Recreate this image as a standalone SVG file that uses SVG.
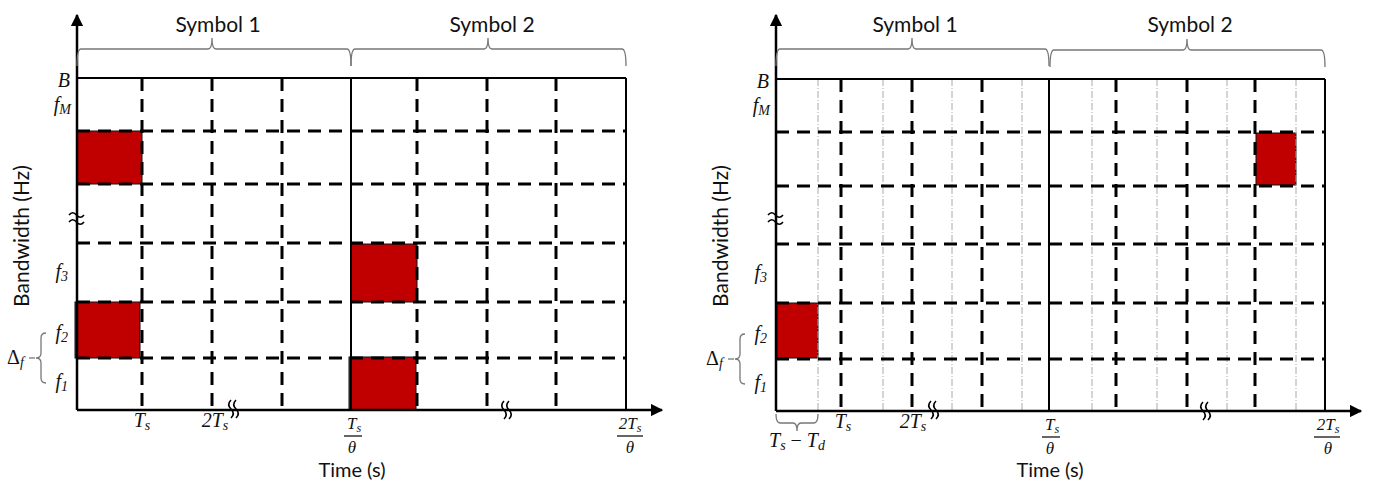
<svg xmlns="http://www.w3.org/2000/svg" width="1380" height="483" viewBox="0 0 1380 483">
<style>
.sans{font-family:Lato,"Open Sans","Liberation Sans",sans-serif;fill:#111;}
.math{font-family:"Liberation Serif","DejaVu Serif",serif;font-style:italic;fill:#111;font-size:20px;}
.up{font-style:normal;}
.frac{font-size:17px;}
.sub{font-size:14px;}
.fsub{font-size:12px;}
.axis{stroke:#000;stroke-width:2.5;fill:none;}
.frame{stroke:#000;stroke-width:2;fill:none;}
.dash{stroke:#000;stroke-width:3;stroke-dasharray:13 8;fill:none;}
.thin{stroke:#aaa;stroke-width:1;stroke-dasharray:7 2 1 2;fill:none;}
.brace{stroke:#777;stroke-width:1.3;fill:none;}
.red{fill:#C00000;stroke:#111;stroke-width:1;}
.wave{stroke:#000;stroke-width:1.6;fill:none;}
.bar{stroke:#000;stroke-width:1.2;}
</style>
<defs>
<marker id="arr" viewBox="0 0 10 10" refX="9" refY="5" markerWidth="5" markerHeight="5" orient="auto">
<path d="M0,0 L10,5 L0,10 z" fill="#000"/>
</marker>
</defs>

<!-- LEFT PANEL -->
<g id="left-cells">
<rect class="red" x="77" y="131" width="65" height="53"/>
<rect class="red" x="75" y="302" width="65" height="56"/>
<rect class="red" x="351" y="244" width="66" height="58"/>
<rect class="red" x="349" y="357" width="67" height="53"/>
</g>
<g id="left-grid">
<path class="dash" d="M77,131H626M77,184H626M77,243H626M77,302H626M77,358H626"/>
<path class="dash" d="M142,78V410M212,78V410M282,78V410M417,78V410M487,78V410M556,78V410"/>
<path class="frame" d="M77,78H626M351,78V410M626,78V410"/>
</g>
<g id="left-axes">
<path class="axis" d="M77,410V15" marker-end="url(#arr)"/>
<path class="axis" d="M77,410H662" marker-end="url(#arr)"/>
<path class="wave" d="M69,215q3.7,-4.5 7.5,0t7.5,0M69,222q3.7,-4.5 7.5,0t7.5,0"/>
<path class="wave" d="M231,400q-4.5,4.5 0,9t0,9M236,400q-4.5,4.5 0,9t0,9"/>
<path class="wave" d="M504,401q-4.5,4.5 0,9t0,9M509,401q-4.5,4.5 0,9t0,9"/>
</g>
<g id="left-braces">
<path class="brace" d="M77,66q0,-17 4,-17H208q4,0 4,-11q0,11 4,11H347q4,0 4,17"/>
<path class="brace" d="M351,66q0,-17 4,-17H484q4,0 4,-11q0,11 4,11H622q4,0 4,17"/>
<path class="brace" d="M46,333q-5,0 -5,5V353q0,5 -5,5q5,0 5,5V378q0,5 5,5"/>
<path class="brace" d="M29,358H35"/>
</g>
<g id="left-labels">
<text class="sans" x="218" y="32" font-size="21" text-anchor="middle">Symbol 1</text>
<text class="sans" x="492" y="32" font-size="21" text-anchor="middle">Symbol 2</text>
<text class="sans" x="352" y="477" font-size="20" text-anchor="middle">Time (s)</text>
<text class="sans" font-size="21" text-anchor="middle" transform="translate(29,236) rotate(-90)">Bandwidth (Hz)</text>
<text class="math" x="70" y="87" text-anchor="end">B</text>
<text class="math" x="71" y="111" text-anchor="end">f<tspan class="sub" dy="3">M</tspan></text>
<text class="math" x="68" y="278" text-anchor="end">f<tspan class="sub" dy="3">3</tspan></text>
<text class="math" x="68" y="339" text-anchor="end">f<tspan class="sub" dy="3">2</tspan></text>
<text class="math" x="68" y="388" text-anchor="end">f<tspan class="sub" dy="3">1</tspan></text>
<text class="math" x="7" y="364"><tspan class="up">Δ</tspan><tspan class="sub" dy="3">f</tspan></text>
<text class="math" x="142" y="427" text-anchor="middle">T<tspan class="sub" dy="3">s</tspan></text>
<text class="math" x="215" y="427" text-anchor="middle">2T<tspan class="sub" dy="3">s</tspan></text>
<text class="math frac" x="354" y="429" text-anchor="middle">T<tspan class="fsub" dy="3">s</tspan></text>
<path class="bar" d="M344,436H362"/>
<text class="math frac" x="352" y="453" text-anchor="middle">θ</text>
<text class="math frac" x="630" y="429" text-anchor="middle">2T<tspan class="fsub" dy="3">s</tspan></text>
<path class="bar" d="M617,436H643"/>
<text class="math frac" x="630" y="453" text-anchor="middle">θ</text>
</g>

<!-- RIGHT PANEL -->
<g id="right-cells">
<rect class="red" x="777" y="303" width="41" height="55" stroke="none"/>
<rect class="red" x="1256" y="133" width="40" height="52" stroke="none"/>
</g>
<g id="right-grid">
<path class="thin" d="M818,79V411M883,79V411M952,79V411M1022,79V411M1092,79V411M1157,79V411M1227,79V411M1296,79V411"/>
<path class="dash" d="M776,132H1325M776,186H1325M776,244H1325M776,303H1325M776,359H1325"/>
<path class="dash" d="M841,79V411M912,79V411M982,79V411M1116,79V411M1187,79V411M1255,79V411"/>
<path class="frame" d="M776,79H1325M1049,79V411M1325,79V411"/>
</g>
<g id="right-axes">
<path class="axis" d="M776,411V15" marker-end="url(#arr)"/>
<path class="axis" d="M776,411H1361" marker-end="url(#arr)"/>
<path class="wave" d="M768,215q3.7,-4.5 7.5,0t7.5,0M768,222q3.7,-4.5 7.5,0t7.5,0"/>
<path class="wave" d="M931,401q-4.5,4.5 0,9t0,9M936,401q-4.5,4.5 0,9t0,9"/>
<path class="wave" d="M1203,402q-4.5,4.5 0,9t0,9M1208,402q-4.5,4.5 0,9t0,9"/>
</g>
<g id="right-braces">
<path class="brace" d="M776,66q0,-17 4,-17H908q4,0 4,-11q0,11 4,11H1045q4,0 4,17"/>
<path class="brace" d="M1050,67q0,-17 4,-17H1183q4,0 4,-11q0,11 4,11H1321q4,0 4,17"/>
<path class="brace" d="M745,334q-5,0 -5,5V354q0,5 -5,5q5,0 5,5V379q0,5 5,5"/>
<path class="brace" d="M728,359H734"/>
<path class="brace" d="M776,414q0,9 4,9H793q4,0 4,8q0,-8 4,-8H814q4,0 4,-9"/>
</g>
<g id="right-labels">
<text class="sans" x="915" y="32" font-size="21" text-anchor="middle">Symbol 1</text>
<text class="sans" x="1190" y="32" font-size="21" text-anchor="middle">Symbol 2</text>
<text class="sans" x="1050" y="477" font-size="20" text-anchor="middle">Time (s)</text>
<text class="sans" font-size="21" text-anchor="middle" transform="translate(728,236) rotate(-90)">Bandwidth (Hz)</text>
<text class="math" x="769" y="88" text-anchor="end">B</text>
<text class="math" x="770" y="112" text-anchor="end">f<tspan class="sub" dy="3">M</tspan></text>
<text class="math" x="767" y="279" text-anchor="end">f<tspan class="sub" dy="3">3</tspan></text>
<text class="math" x="767" y="340" text-anchor="end">f<tspan class="sub" dy="3">2</tspan></text>
<text class="math" x="767" y="389" text-anchor="end">f<tspan class="sub" dy="3">1</tspan></text>
<text class="math" x="706" y="365"><tspan class="up">Δ</tspan><tspan class="sub" dy="3">f</tspan></text>
<text class="math" x="797" y="447" text-anchor="middle">T<tspan class="sub" dy="3">s</tspan><tspan class="up" dy="-3"> − </tspan>T<tspan class="sub" dy="3">d</tspan></text>
<text class="math" x="843" y="428" text-anchor="middle">T<tspan class="sub" dy="3">s</tspan></text>
<text class="math" x="913" y="428" text-anchor="middle">2T<tspan class="sub" dy="3">s</tspan></text>
<text class="math frac" x="1052" y="430" text-anchor="middle">T<tspan class="fsub" dy="3">s</tspan></text>
<path class="bar" d="M1042,437H1060"/>
<text class="math frac" x="1050" y="454" text-anchor="middle">θ</text>
<text class="math frac" x="1328" y="430" text-anchor="middle">2T<tspan class="fsub" dy="3">s</tspan></text>
<path class="bar" d="M1314,437H1340"/>
<text class="math frac" x="1328" y="454" text-anchor="middle">θ</text>
</g>
</svg>
